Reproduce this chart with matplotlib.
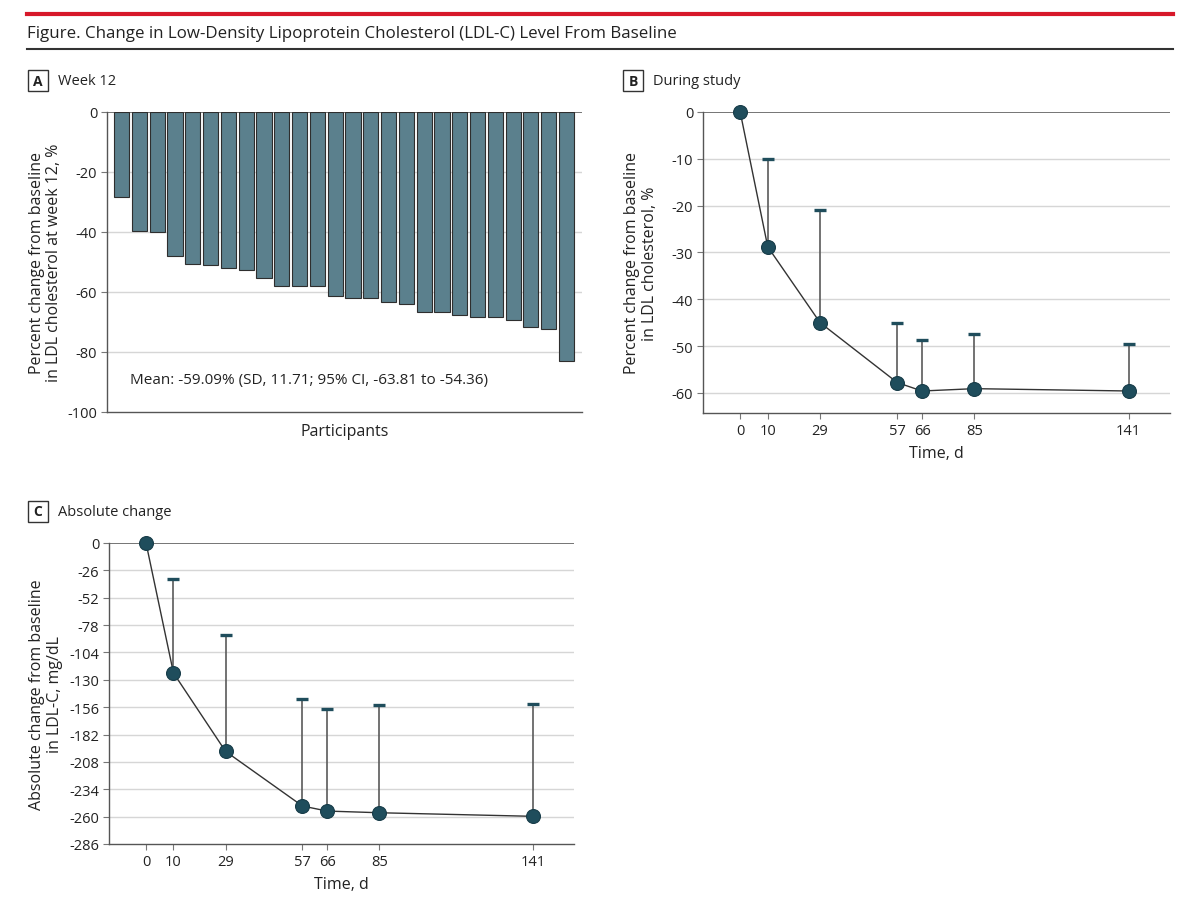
import matplotlib
matplotlib.use("Agg")
import matplotlib.pyplot as plt
from matplotlib.patches import Rectangle
from matplotlib.lines import Line2D

plt.rcParams['font.family'] = ['Open Sans', 'DejaVu Sans']
plt.rcParams['axes.unicode_minus'] = False

# ---------------- data ----------------
week12_change = [-28.4, -39.8, -39.9, -48.1, -50.8, -51.0, -52.0, -52.8, -55.4,
                 -57.9, -57.9, -58.1, -61.3, -62.0, -62.0, -63.4, -64.0, -66.7,
                 -66.7, -67.7, -68.3, -68.4, -69.4, -71.6, -72.3, -82.9]
days = [0, 10, 29, 57, 66, 85, 141]
pct_mean = [0, -28.8, -45.0, -57.8, -59.6, -59.1, -59.6]
pct_upper = [0, -10.1, -20.9, -45.0, -48.7, -47.4, -49.5]
abs_mean = [0, -123.5, -198.0, -249.9, -254.7, -256.3, -259.7]
abs_upper = [0, -33.9, -87.4, -147.9, -157.4, -154.3, -153.3]
ticks_a = [0, -20, -40, -60, -80, -100]
ticks_b = [0, -10, -20, -30, -40, -50, -60]
ticks_c = [0, -26, -52, -78, -104, -130, -156, -182, -208, -234, -260, -286]
mean_text = "Mean: -59.09% (SD, 11.71; 95% CI, -63.81 to -54.36)"

BAR = '#5b808d'
DOT = '#1f4d5c'
GRID = '#d6d6d6'
SPINE = '#555555'
TXT = '#222222'
W, H = 1200, 903

fig = plt.figure(figsize=(12, 9.03), dpi=100)

def fx(x):
    return x / W

def fy(y):
    return 1 - y / H

# header
fig.add_artist(Line2D([fx(27), fx(1173)], [fy(14.5), fy(14.5)], color='#d7182a', lw=3.0))
fig.text(fx(27), fy(33.5), "Figure. Change in Low-Density Lipoprotein Cholesterol (LDL-C) Level From Baseline",
         fontsize=12.2, color=TXT, va='center', ha='left')
fig.add_artist(Line2D([fx(27), fx(1173)], [fy(49.5), fy(49.5)], color='#333333', lw=1.5))

def panel_label(x, y, letter, title):
    fig.add_artist(Rectangle((fx(x), fy(y + 21)), fx(20), 21 / H, fill=False,
                             edgecolor='#333333', lw=1.0))
    fig.text(fx(x + 10), fy(y + 10.5), letter, fontsize=10, fontweight='bold',
             ha='center', va='center', color=TXT)
    fig.text(fx(x + 30), fy(y + 10.5), title, fontsize=10.5, ha='left', va='center', color=TXT)

panel_label(28, 71, 'A', 'Week 12')
panel_label(623, 71, 'B', 'During study')
panel_label(28, 502, 'C', 'Absolute change')

def style_axes(ax, yticks, ylim):
    for s in ['top', 'right']:
        ax.spines[s].set_visible(False)
    for s in ['left', 'bottom']:
        ax.spines[s].set_color(SPINE)
        ax.spines[s].set_linewidth(1.0)
    ax.set_ylim(*ylim)
    ax.set_yticks(yticks)
    ax.set_yticklabels([str(t) for t in yticks])
    for t in yticks:
        if t == 0:
            ax.axhline(0, color='#6a6a6a', lw=1.3, zorder=1)
        elif t != ylim[0]:
            ax.axhline(t, color=GRID, lw=1.0, zorder=0)
    ax.tick_params(axis='both', colors='#777777', labelcolor=TXT, labelsize=10.5,
                   length=4, width=0.8, pad=3)

# ---------------- Panel A ----------------
axA = fig.add_axes([fx(107), fy(413), fx(475), 300 / H])
style_axes(axA, ticks_a, (-100, 0))
idx = list(range(len(week12_change)))
axA.bar(idx, week12_change, width=0.85, color=BAR, edgecolor='#2e2e2e', linewidth=0.8, zorder=2)
axA.set_xlim(-0.82, 25.87)
axA.set_xticks([])
axA.set_xlabel("Participants", fontsize=11.5, color=TXT, labelpad=8)
axA.set_ylabel("Percent change from baseline\nin LDL cholesterol at week 12, %",
               fontsize=11.5, color=TXT, linespacing=1.15)
axA.yaxis.set_label_coords(-0.094, 0.5)
axA.text(0.048, 0.107, mean_text, transform=axA.transAxes, fontsize=11,
         color=TXT, ha='left', va='center')

def line_panel(ax, means, uppers, yticks, ylim, ylabel, label_x):
    style_axes(ax, yticks, ylim)
    ax.plot(days, means, color='#333333', lw=1.0, zorder=3, clip_on=False)
    for d, m, u in zip(days, means, uppers):
        if u != m:
            ax.plot([d, d], [m, u], color='#5a5a5a', lw=1.2, zorder=2)
            ax.plot([d], [u], marker='_', markersize=9, markeredgewidth=2.4,
                    color=DOT, zorder=4)
    ax.plot(days, means, linestyle='none', marker='o', markersize=10,
            markerfacecolor=DOT, markeredgecolor='#173c48', markeredgewidth=0.8,
            zorder=5, clip_on=False)
    ax.set_xlim(-13.5, 156)
    ax.set_xticks(days)
    ax.set_xticklabels([str(d) for d in days])
    ax.set_xlabel("Time, d", fontsize=11.5, color=TXT, labelpad=5)
    ax.set_ylabel(ylabel, fontsize=11.5, color=TXT, linespacing=1.15)
    ax.yaxis.set_label_coords(label_x, 0.5)

# ---------------- Panel B ----------------
axB = fig.add_axes([fx(703), fy(414), fx(467), 301 / H])
line_panel(axB, pct_mean, pct_upper, ticks_b, (-64.3, 0),
           "Percent change from baseline\nin LDL cholesterol, %", -0.097)

# ---------------- Panel C ----------------
axC = fig.add_axes([fx(109), fy(845), fx(465), 301 / H])
line_panel(axC, abs_mean, abs_upper, ticks_c, (-286, 0),
           "Absolute change from baseline\nin LDL-C, mg/dL", -0.099)

fig.savefig("out.png", dpi=100, facecolor='white')
